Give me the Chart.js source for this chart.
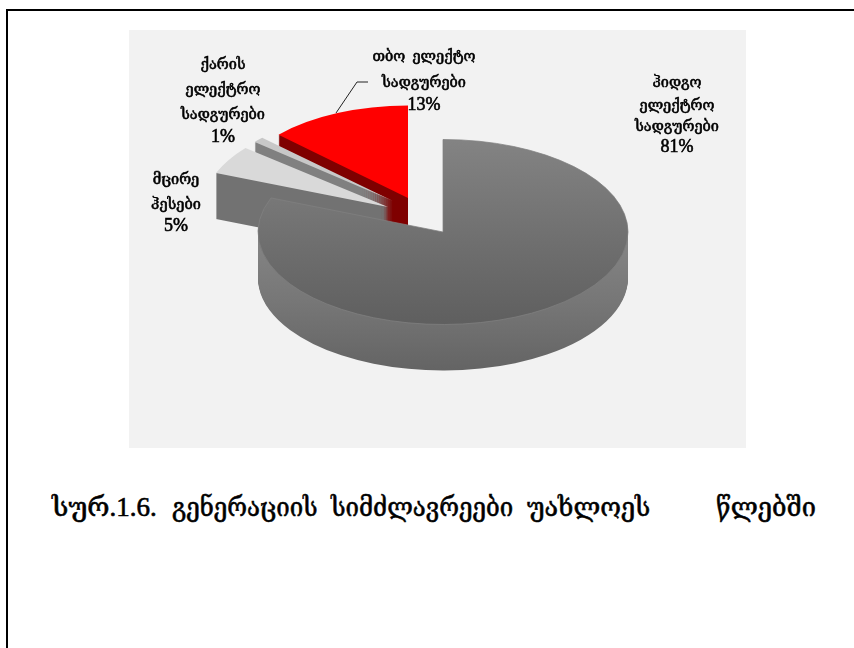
<!DOCTYPE html>
<html>
<head>
<meta charset="utf-8">
<style>
  html, body { margin: 0; padding: 0; background: #fff; overflow: hidden; }
  #frame { position: absolute; left: 6px; top: 9px; width: 860px; height: 660px; border-left: 2px solid #000; border-top: 2px solid #000; }
  #plot { position: absolute; left: 129px; top: 30px; width: 617px; height: 418px; background: #f2f2f2; }
  #caption span { position: absolute; top: 491px; white-space: pre; color: #000; font: 27px "Liberation Serif", "DejaVu Serif", serif; -webkit-text-stroke: 0.6px #000; transform-origin: left top; }
</style>
</head>
<body>
<div id="frame"></div>
<div id="plot"><canvas id="pie"></canvas></div>
<div id="caption">
  <span style="left:52px; transform:scaleX(1)">სურ.1.6.</span>
  <span style="left:172px; transform:scaleX(0.89)">გენერაციის</span>
  <span style="left:331px; transform:scaleX(0.89)">სიმძლავრეები</span>
  <span style="left:527px; transform:scaleX(0.93)">უახლოეს</span>
  <span style="left:716px; transform:scaleX(0.94)">წლებში</span>
</div>
<script src="https://cdn.jsdelivr.net/npm/chart.js@4/dist/chart.umd.min.js"></script>
<script>
// values
var categories = ["ჰიდგო ელექტრო სადგურები", "მცირე ჰესები", "ქარის ელექტრო სადგურები", "თბო ელექტო სადგურები"];
var shares = [81, 5, 1, 13];
var labelLines = [
  ["ჰიდგო", "ელექტრო", "სადგურები"],
  ["მცირე", "ჰესები"],
  ["ქარის", "ელექტრო", "სადგურები"],
  ["თბო  ელექტო", "სადგურები"]
];

// look of the fake 3d pie
var pieCentre = [314, 202];
var squash = 0.5;
var depth = 46;
var sliceShift = [[0, 0], [-55, -25], [-50, -31], [-35, -34]];
var sliceScaleX = [1, 1, 0.97, 0.96];
var gradientTop = 110;   // canvas y where the shading starts and ends
var gradientBottom = 294;
var sideTop = 200;
var sideBottom = 340;
var topColours = [["#838383", "#5f5f5f"], ["#d9d9d9", "#d9d9d9"], ["#c8c8c8", "#c8c8c8"], ["#ff0000", "#ff0000"]];
var sideColours = [["#868686", "#777777", "#646464"], ["#727272", "#6c6c6c"], ["#808080", "#808080"], ["#7f0000", "#860000"]];
// centre x of each label and canvas y of each text line
var labelX = [548, 47, 94, 295];
var labelY = [[53, 76, 97, 117], [150, 175, 196], [35, 60, 85, 107], [27, 53, 75]];

// colours run over screen y, so turn that back into the y of the squashed layer
function shade(ctx, arc, colours, screenTop, screenBottom, originY) {
  var y0 = arc.y + (screenTop - originY) / squash;
  var y1 = arc.y + (screenBottom - originY) / squash;
  var g = ctx.createLinearGradient(0, y0, 0, y1);
  for (var i = 0; i < colours.length; i++) {
    g.addColorStop(i / (colours.length - 1), colours[i]);
  }
  return g;
}

function drawCopy(ctx, arc, fill, border) {
  var copy = Object.create(arc);
  copy.options = Object.assign({}, arc.options, { backgroundColor: fill, borderColor: border || fill, borderWidth: border ? 1 : 0 });
  copy.draw(ctx);
}

var pie3d = {
  id: "pie3d",
  beforeDatasetDraw: function (chart, args) {
    var ctx = chart.ctx;
    var arcs = args.meta.data;
    for (var n = arcs.length - 1; n >= 0; n--) {
      var arc = arcs[n];
      for (var d = depth; d >= 0; d--) {
        var originY = pieCentre[1] + sliceShift[n][1] + d;
        ctx.save();
        ctx.translate(pieCentre[0] + sliceShift[n][0], originY);
        ctx.scale(sliceScaleX[n], squash);
        ctx.translate(-arc.x, -arc.y);
        if (d > 0) {
          drawCopy(ctx, arc, shade(ctx, arc, sideColours[n], sideTop, sideBottom, originY));
        } else {
          drawCopy(ctx, arc, shade(ctx, arc, topColours[n], gradientTop, gradientBottom, originY), n === 0 ? "#808080" : null);
        }
        ctx.restore();
      }
    }
    return false;
  },
  afterDraw: function (chart) {
    var ctx = chart.ctx;
    ctx.save();
    // leader line of the red slice
    ctx.strokeStyle = "#222";
    ctx.lineWidth = 1;
    ctx.beginPath();
    ctx.moveTo(207, 83);
    ctx.lineTo(228, 52);
    ctx.lineTo(239, 52);
    ctx.stroke();

    ctx.fillStyle = "#000";
    ctx.strokeStyle = "#000";
    ctx.lineWidth = 0.6;
    ctx.textAlign = "center";
    ctx.textBaseline = "middle";
    for (var i = 0; i < shares.length; i++) {
      var lines = labelLines[i];
      ctx.font = '14.5px "Liberation Serif", "DejaVu Serif", serif';
      for (var l = 0; l < lines.length; l++) {
        ctx.fillText(lines[l], labelX[i], labelY[i][l]);
        ctx.strokeText(lines[l], labelX[i], labelY[i][l]);
      }
      var pct = shares[i] + "%";
      ctx.font = '18px "Liberation Serif", serif';
      ctx.fillText(pct, labelX[i], labelY[i][lines.length]);
      ctx.strokeText(pct, labelX[i], labelY[i][lines.length]);
    }
    ctx.restore();
  }
};

new Chart(document.getElementById("pie"), {
  type: "pie",
  data: {
    labels: categories,
    datasets: [{
      data: shares,
      radius: 185,
      borderWidth: 0,
      backgroundColor: ["#808080", "#d9d9d9", "#c8c8c8", "#ff0000"]
    }]
  },
  options: {
    responsive: true,
    maintainAspectRatio: false,
    animation: false,
    events: [],
    plugins: { legend: { display: false }, tooltip: { enabled: false } }
  },
  plugins: [pie3d]
});
</script>
</body>
</html>
